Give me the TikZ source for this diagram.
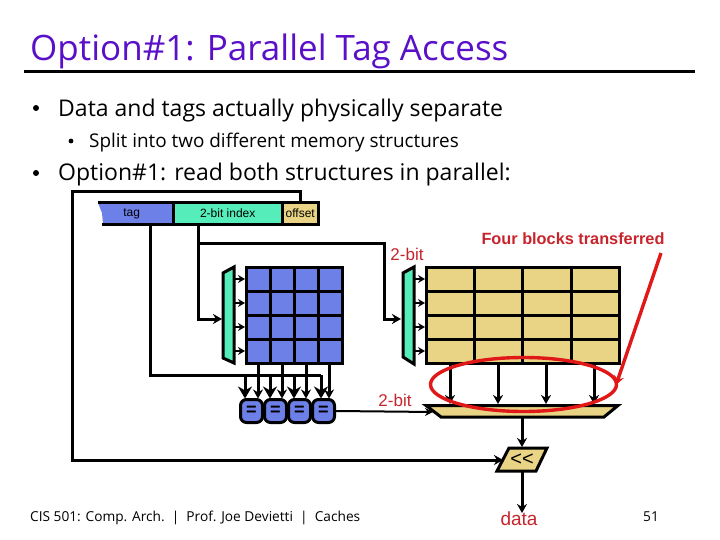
\documentclass[tikz,border=0pt]{standalone}
\usepackage{fontspec}
\usepackage{xcolor}
\setmainfont{Open Sans}
\newfontfamily\labelfont{Liberation Sans}
\usetikzlibrary{arrows.meta,calc}

\definecolor{titlepurple}{HTML}{5A10C8}
\definecolor{tagblue}{HTML}{6C80E8}
\definecolor{muxgreen}{HTML}{55EEBB}
\definecolor{datasand}{HTML}{E8D484}
\definecolor{labelred}{HTML}{C8242C}
\definecolor{markred}{HTML}{E01818}

\tikzset{
    textline/.style={anchor=base west, inner sep=0pt},
    field/.style={inner sep=0pt, minimum height=20pt, font=\labelfont\fontsize{12}{12}\selectfont},
    memcell/.style={draw, line width=3pt, inner sep=0pt},
    wire/.style={line width=3pt, -{Stealth[length=9pt,width=10pt]}},
    thickwire/.style={line width=3pt, -{Stealth[length=12pt,width=14pt]}},
    thinwire/.style={line width=2pt, -{Stealth[length=8pt,width=8pt]}},
    plainwire/.style={line width=3pt},
    cmpbox/.style={draw, fill=tagblue, line width=3pt, rounded corners=6pt, inner sep=0pt,
        minimum width=22pt, minimum height=23pt, font=\labelfont\bfseries\fontsize{18}{18}\selectfont},
    redlabel/.style={text=labelred, inner sep=0pt, font=\labelfont\fontsize{17}{17}\selectfont},
}

\begin{document}
\begin{tikzpicture}[x=1pt,y=-1pt]
    \useasboundingbox (0,0) rectangle (720,540);

    % title
    \node[textline, text=titlepurple, font=\fontsize{35}{35}\selectfont] (title) at (30,61) {Option\#1: Parallel Tag Access};
    \draw[line width=3pt] (24,72) -- (695,72);

    % bullets
    \fill (36,108) circle (3pt);
    \node[textline, font=\fontsize{23}{23}\selectfont] (texta) at (58,116.5) {Data and tags actually physically separate};
    \fill (71,141) circle (2.4pt);
    \node[textline, font=\fontsize{18.9}{19}\selectfont] (textb) at (89,147.5) {Split into two different memory structures};
    \fill (36,173) circle (3pt);
    \node[textline, font=\fontsize{23}{23}\selectfont] (textc) at (58,180.5) {Option\#1: read both structures in parallel:};

    % address fields
    \fill[tagblue] (98,203) -- (173,203) -- (173,224) -- (103,224) -- (102,213) -- cycle;
    \node[field, minimum width=75pt, anchor=west] (tagfield) at (94,213.5) {tag};
    \node[field, minimum width=109pt, fill=muxgreen, anchor=west] (indexfield) at (173,213.5) {2-bit index};
    \node[field, minimum width=36pt, fill=datasand, anchor=west] (offsetfield) at (282,213.5) {offset};
    \draw[line width=3pt] (98,202.5) -- (318,202.5) -- (318,225) -- (102,225);
    \draw[line width=3pt] (173,203) -- (173,225);
    \draw[line width=3pt] (282,203) -- (282,225);

    % tag array
    \node[memcell, fill=tagblue, minimum width=96pt, minimum height=96pt] (tagarray) at (294,315) {};
    \foreach \x in {270,294,318}
        \draw[line width=3pt] (\x,267) -- (\x,363);
    \foreach \y in {291,315,339}
        \draw[line width=3pt] (246,\y) -- (342,\y);

    % data array
    \node[memcell, fill=datasand, minimum width=193pt, minimum height=96pt] (dataarray) at (522.5,315) {};
    \foreach \x in {474.5,522.5,571}
        \draw[line width=3pt] (\x,267) -- (\x,363);
    \foreach \y in {291,315,339}
        \draw[line width=3pt] (426,\y) -- (619,\y);

    % decoders
    \draw[fill=muxgreen, line width=3pt] (223,273) -- (234,267) -- (234,363) -- (223,358) -- cycle;
    \draw[fill=muxgreen, line width=3pt] (403,273) -- (414,267) -- (414,364) -- (403,357) -- cycle;
    \foreach \y in {279,303,327,351} {
        \draw[line width=2pt, -{Stealth[length=7pt,width=8pt]}] (235,\y) -- (245,\y);
        \draw[line width=2pt, -{Stealth[length=7pt,width=8pt]}] (415,\y) -- (425,\y);
    }

    % comparators
    \foreach \name/\x in {cmpa/251.5,cmpb/275.5,cmpc/299.5,cmpd/323.5}
        \node[cmpbox] (\name) at (\x,411) {=};

    % index wires
    \coordinate (leftmuxin) at (222,319);
    \coordinate (rightmuxin) at (401,319);
    \coordinate (indexout) at (198,225);
    \coordinate (indexsplit) at (198,243);
    \draw[wire] (indexout) |- (leftmuxin);
    \draw[wire] (indexsplit) -- (384,243) -- (384,319) -- (rightmuxin);

    % tag wires
    \coordinate (tagout) at (150,225);
    \draw[plainwire] (tagout) -- (150,375) -- (321,375);
    \foreach \x in {245,270,294,321}
        \draw[thickwire] (\x,375) -- (\x,398.5);
    \foreach \x in {258,282,306,329}
        \draw[wire] (\x,364) -- (\x,398.5);

    % data wires into the block mux
    \foreach \x in {450,498,546,594}
        \draw[wire] (\x,364) -- (\x,404);

    % block mux
    \draw[fill=datasand, line width=3pt] (426,405.5) -- (618,405.5) -- (604,417) -- (441,417) -- cycle;
    \coordinate (blockout) at (522,417);
    \coordinate (blockin) at (433,412);
    \draw[thinwire] (cmpd.east) -- (blockin);

    % shifter
    \draw[fill=datasand, line width=3pt] (509,448) -- (547,448) -- (536,471) -- (497,471) -- cycle;
    \node[inner sep=0pt, font=\labelfont\fontsize{20}{20}\selectfont] (shifter) at (522,459.5) {<<};
    \coordinate (shiftin) at (522,447);
    \coordinate (shiftout) at (522,471);
    \coordinate (shiftleft) at (503,460);
    \draw[wire] (blockout) -- (shiftin);

    % offset wire
    \coordinate (offsetout) at (300.5,202);
    \draw[wire] (offsetout) -- (300.5,192) -- (72.5,192) -- (72.5,460) -- (shiftleft);

    % labels
    \node[redlabel] (indexbits) at (407,254) {2-bit};
    \node[redlabel] (blockbits) at (395,400) {2-bit};
    \node[redlabel, font=\labelfont\bfseries\fontsize{16.3}{16}\selectfont] (fourblocks) at (573,239) {Four blocks transferred};
    \node[redlabel, font=\labelfont\fontsize{19}{19}\selectfont] (data) at (519,519) {data};
    \draw[wire] (shiftout) -- (522,513);

    % highlight
    \draw[markred, line width=3.4pt] (523.5,384.5) ellipse (93pt and 27pt);
    \coordinate (markstart) at (661,253);
    \coordinate (markend) at (616,385);
    \draw[markred, line width=3.4pt, -{Stealth[length=9pt,width=10pt]}] (markstart) -- (markend);

    % footer
    \node[textline, font=\fontsize{13.7}{14}\selectfont] (footer) at (30,521) {CIS 501: Comp. Arch.~~|~~Prof. Joe Devietti~~|~~Caches};
    \node[textline, font=\fontsize{13.7}{14}\selectfont] (pagenum) at (643,521) {51};
\end{tikzpicture}
\end{document}
